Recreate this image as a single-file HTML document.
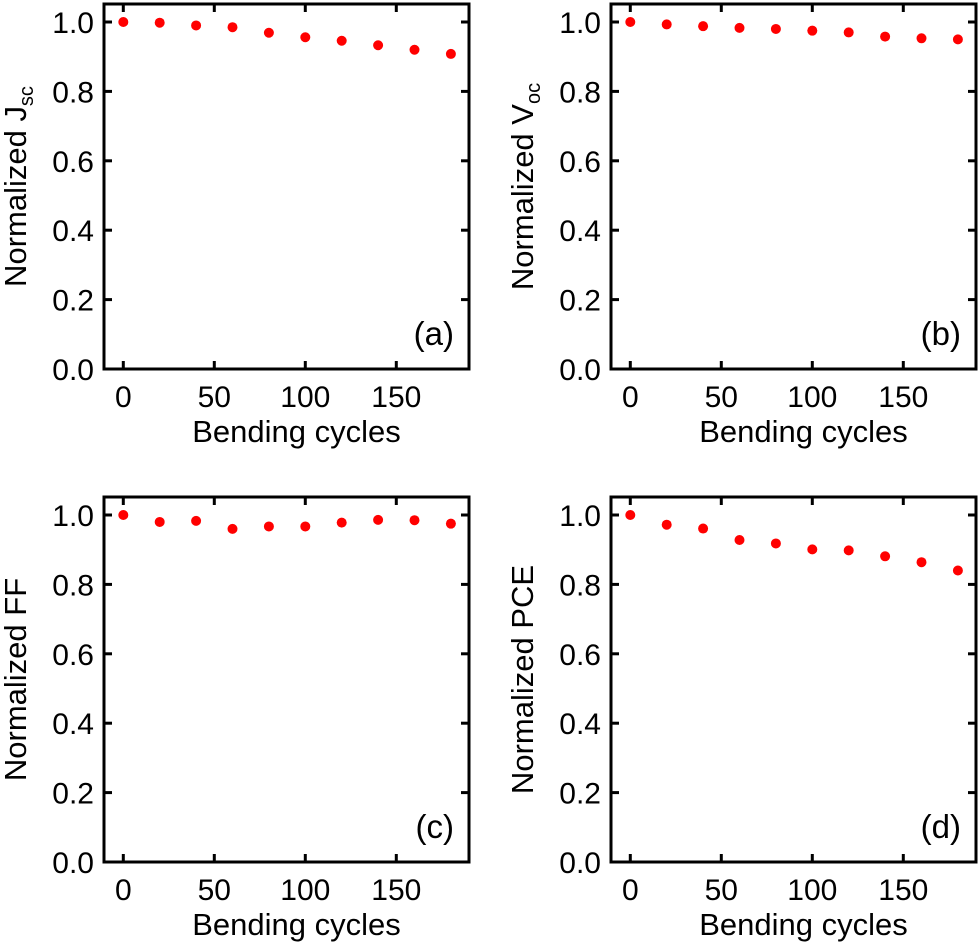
<!DOCTYPE html>
<html><head><meta charset="utf-8"><style>
html,body{margin:0;padding:0;background:#fff;}
svg{display:block;font-family:"Liberation Sans",Arial,sans-serif;}
</style></head><body>
<svg id="fig" width="980" height="947" viewBox="0 0 980 947"></svg>
<script>
const cycles=[0,20,40,60,80,100,120,140,160,180];
const jscVals=[1.0,0.998,0.990,0.985,0.969,0.956,0.946,0.933,0.920,0.908];
const vocVals=[1.0,0.993,0.988,0.983,0.980,0.975,0.970,0.958,0.953,0.950];
const ffVals=[1.0,0.980,0.983,0.960,0.967,0.967,0.978,0.986,0.985,0.975];
const pceVals=[1.0,0.972,0.961,0.928,0.918,0.901,0.898,0.881,0.864,0.840];
const xTicks=[0,50,100,150];
const yTicks=[0.0,0.2,0.4,0.6,0.8,1.0];
const yTickLabels=["0.0","0.2","0.4","0.6","0.8","1.0"];
const panels=[
 {id:"a",vals:jscVals,title:"Normalized J",sub:"sc",ox:0,oy:0},
 {id:"b",vals:vocVals,title:"Normalized V",sub:"oc",ox:507,oy:0},
 {id:"c",vals:ffVals,title:"Normalized FF",sub:"",ox:0,oy:493},
 {id:"d",vals:pceVals,title:"Normalized PCE",sub:"",ox:507,oy:493}
];
const NS="http://www.w3.org/2000/svg";
const svg=document.getElementById('fig');
function mk(tag,attrs,parent){const e=document.createElementNS(NS,tag);for(const k in attrs)e.setAttribute(k,attrs[k]);(parent||svg).appendChild(e);return e;}
panels.forEach(p=>{
 const L=104+p.ox,R=469+p.ox,T=4+p.oy,B=369+p.oy;
 const x0=123.3+p.ox,xs=91/50;
 const y0=369+p.oy,ys=347;
 const X=v=>x0+v*xs, Y=v=>y0-v*ys;
 const g=mk('g',{});
 
 
 const fr=mk('rect',{x:L,y:T,width:R-L,height:B-T,fill:'none',stroke:'#000','stroke-width':3},g);
 
 
 xTicks.forEach(t=>{
  mk('line',{x1:X(t),x2:X(t),y1:B,y2:B-8,stroke:'#000','stroke-width':3},g);
  mk('line',{x1:X(t),x2:X(t),y1:T,y2:T+8,stroke:'#000','stroke-width':3},g);
  const tl=mk('text',{x:X(t),y:B+38,'font-size':30,'text-anchor':'middle'},g);
  tl.textContent=t;
  
  
 });
 yTicks.forEach((t,i)=>{
  mk('line',{x1:L,x2:L+8,y1:Y(t),y2:Y(t),stroke:'#000','stroke-width':3},g);
  mk('line',{x1:R,x2:R-8,y1:Y(t),y2:Y(t),stroke:'#000','stroke-width':3},g);
  const tl=mk('text',{x:L-10,y:Y(t)+11,'font-size':30,'text-anchor':'end'},g);
  tl.textContent=yTickLabels[i];
  
  
 });
 const xt=mk('text',{x:(L+R)/2+10,y:B+73,'font-size':31,'text-anchor':'middle'},g);
 xt.textContent='Bending cycles';
 
 
 const yt=mk('text',{transform:`translate(${L-78},${(T+B)/2}) rotate(-90)`,'font-size':31,'text-anchor':'middle'},g);
 yt.textContent=p.title;
 if(p.sub){const ts=mk('tspan',{'font-size':20,dy:7},yt);ts.textContent=p.sub;}
 
 
 const lab=mk('text',{x:R-15,y:B-24,'font-size':33,'text-anchor':'end'},g);
 lab.textContent='('+p.id+')';
 
 
 cycles.forEach((c,i)=>{
  const d=mk('circle',{cx:X(c),cy:Y(p.vals[i]),r:5,fill:'#ff0000'},g);
  
  
 });
});
</script>
</body></html>
